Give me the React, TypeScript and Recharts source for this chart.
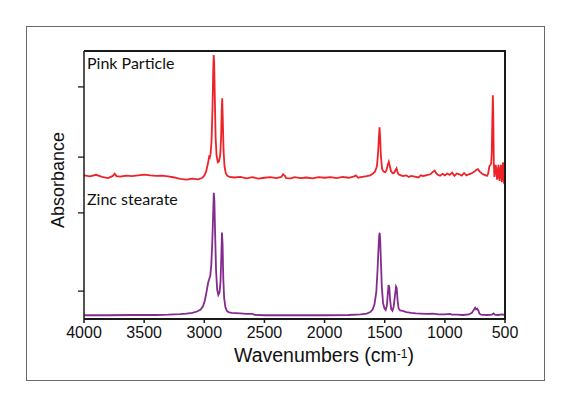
import React from 'react';
import { LineChart, Line, XAxis, YAxis } from 'recharts';

const pinkWavenumbers = [
  4000, 3950, 3900, 3850, 3800, 3760, 3745, 3730, 3700, 3650, 3600, 3550, 3500, 3450, 3400, 3350, 3300, 3250, 3200, 3150,
  3100, 3050, 3020, 3000, 2985, 2970, 2960, 2955, 2948, 2940, 2932, 2926, 2922, 2918, 2913, 2906, 2898, 2888, 2878, 2868,
  2860, 2855, 2851, 2847, 2840, 2832, 2822, 2810, 2790, 2750, 2700, 2650, 2600, 2550, 2500, 2450, 2400, 2360, 2345, 2330,
  2320, 2280, 2250, 2200, 2150, 2100, 2050, 2000, 1950, 1900, 1850, 1800, 1760, 1740, 1720, 1700, 1650, 1620, 1600, 1580,
  1565, 1555, 1548, 1543, 1538, 1532, 1522, 1510, 1495, 1485, 1475, 1466, 1458, 1448, 1435, 1420, 1410, 1402, 1395, 1385,
  1370, 1350, 1320, 1300, 1280, 1250, 1220, 1200, 1180, 1150, 1120, 1100, 1085, 1075, 1060, 1040, 1020, 1000, 980, 960,
  940, 920, 900, 880, 860, 840, 820, 800, 780, 760, 740, 725, 710, 690, 670, 650, 640, 630, 622, 615,
  610, 605, 601, 597, 593, 588, 583, 578, 572, 566, 560, 555, 550, 545, 540, 535, 530, 526, 521, 516,
  512, 507, 503, 500,
];
const pinkAbsorbance = [
  53.6, 53.2, 53.8, 53.0, 52.6, 53.4, 54.2, 53.3, 53.1, 53.5, 53.3, 53.6, 53.9, 53.6, 53.4, 53.5, 53.2, 52.8, 52.3, 52.0,
  52.4, 52.1, 52.6, 53.5, 55.0, 58.0, 60.5, 60.2, 61.5, 66, 78, 92, 98.5, 96, 84, 68, 61, 58.5, 58.8, 61,
  68, 78, 82.4, 76, 63, 57, 54.5, 53.5, 53.0, 52.8, 53.0, 52.5, 52.9, 52.4, 52.7, 52.9, 52.6, 53.0, 54.0, 53.4,
  52.6, 52.5, 52.9, 52.6, 52.8, 52.5, 52.9, 52.7, 52.9, 52.6, 53.0, 52.7, 53.1, 53.6, 52.7, 52.9, 53.3, 53.6, 54.2, 55.0,
  57, 62, 68, 71.5, 68, 61, 56, 55, 54.8, 55.5, 57.5, 58.7, 57.2, 55.2, 54.4, 54.6, 55.6, 56.2, 55.0, 54.0,
  53.7, 53.3, 53.6, 53.0, 53.4, 53.1, 52.8, 53.6, 53.3, 53.7, 54.0, 54.9, 55.4, 54.6, 53.8, 53.5, 54.2, 53.6, 54.3, 53.8,
  54.6, 53.4, 54.3, 54.0, 53.5, 54.5, 53.6, 54.0, 54.3, 54.8, 55.6, 55.9, 55.0, 54.2, 53.8, 53.4, 54.2, 57.0, 57.5, 58,
  62, 75, 83.5, 75, 58, 53, 54.5, 57.5, 56, 52, 53, 57.5, 55, 51.5, 54, 57.5, 55, 51, 56, 58.5,
  53, 50.5, 52, 50,
];

const zincWavenumbers = [
  4000, 3800, 3600, 3400, 3300, 3200, 3150, 3100, 3060, 3030, 3010, 2995, 2980, 2968, 2958, 2950, 2942, 2934, 2927, 2921,
  2916, 2910, 2902, 2893, 2883, 2873, 2865, 2858, 2853, 2848, 2842, 2835, 2825, 2812, 2795, 2770, 2740, 2700, 2650, 2600,
  2580, 2500, 2300, 2000, 1800, 1700, 1650, 1620, 1600, 1585, 1570, 1560, 1552, 1546, 1542, 1538, 1532, 1524, 1514, 1502,
  1492, 1482, 1474, 1468, 1462, 1455, 1446, 1436, 1426, 1414, 1406, 1400, 1393, 1385, 1372, 1350, 1320, 1280, 1240, 1200,
  1150, 1100, 1050, 1000, 960, 940, 900, 850, 800, 775, 760, 748, 740, 732, 722, 712, 700, 650, 610, 595,
  585, 560, 520, 500,
];
const zincAbsorbance = [
  1.4, 1.4, 1.5, 1.5, 1.6, 1.8, 2.0, 2.3, 2.8, 3.5, 4.8, 7.0, 10.5, 13.5, 15.0, 16.2, 20, 28, 38, 47.1,
  44, 32, 18, 11, 9.0, 10.0, 14, 24, 32.3, 28, 15, 8, 4.5, 3.0, 2.5, 2.3, 2.2, 2.1, 1.9, 1.9,
  1.5, 1.4, 1.4, 1.4, 1.5, 1.7, 2.0, 2.6, 3.5, 5.5, 10, 18, 26, 31, 32.2, 30, 22, 12, 6, 4,
  3.4, 5, 9.5, 12.7, 12, 7, 3.8, 3.1, 4.5, 9, 12.1, 11.5, 7, 4, 3.2, 3.0, 2.6, 2.3, 2.1, 2.0,
  1.9, 2.0, 1.7, 1.7, 1.9, 1.6, 1.6, 1.5, 1.7, 2.3, 3.4, 4.2, 3.6, 3.9, 3.2, 2.0, 1.6, 1.5, 1.6, 2.1,
  1.6, 1.5, 1.7, 1.4,
];

const xTicks = [4000, 3500, 3000, 2500, 2000, 1500, 1000, 500];
const yTicks = [10.4, 39.6, 60.4, 86.6];
const seriesNames = ['Pink Particle', 'Zinc stearate'];

const pinkData = pinkWavenumbers.map((w, i) => ({ w, a: pinkAbsorbance[i] }));
const zincData = zincWavenumbers.map((w, i) => ({ w, a: zincAbsorbance[i] }));

const sans = '"Liberation Sans", Arial, sans-serif';
const labelFont = 'Lato, "Open Sans", sans-serif';

const EmptyTick = () => <g />;

export default function App() {
  return (
    <div style={{ position: 'absolute', left: 0, top: 0, width: 570, height: 393, background: '#fff' }}>
      <div
        style={{
          position: 'absolute', left: 26, top: 26, width: 519, height: 355,
          border: '1.5px solid #6a6a6a', boxSizing: 'border-box',
        }}
      />
      <div style={{ position: 'absolute', left: 0, top: 0 }}>
        <LineChart width={570} height={393} margin={{ top: 51, right: 65, bottom: 0, left: 24 }}>
          <XAxis
            dataKey="w" type="number" domain={[500, 4000]} reversed ticks={xTicks}
            allowDataOverflow height={74} tickSize={4} tickMargin={4}
            axisLine={{ stroke: '#1a1a1a', strokeWidth: 2 }}
            tickLine={{ stroke: '#1a1a1a', strokeWidth: 1.5 }}
            tick={{ fill: '#111', fontSize: 16, fontFamily: sans }}
          />
          <YAxis
            type="number" domain={[0, 100]} ticks={yTicks} width={60} tick={EmptyTick} tickSize={6}
            axisLine={{ stroke: '#1a1a1a', strokeWidth: 1.5 }}
            tickLine={{ stroke: '#1a1a1a', strokeWidth: 1.3 }}
          />
          <Line
            data={pinkData} dataKey="a" name={seriesNames[0]} type="linear" dot={false}
            stroke="#ee2229" strokeWidth={1.8} isAnimationActive={false}
          />
          <Line
            data={zincData} dataKey="a" name={seriesNames[1]} type="linear" dot={false}
            stroke="#832c8e" strokeWidth={1.8} isAnimationActive={false}
          />
        </LineChart>
      </div>
      <div
        style={{
          position: 'absolute', left: 84, top: 50, width: 422, height: 270,
          borderTop: '2.2px solid #1a1a1a', borderRight: '2px solid #1a1a1a', boxSizing: 'border-box',
          pointerEvents: 'none',
        }}
      />
      <div
        style={{
          position: 'absolute', left: 87, top: 55, fontFamily: labelFont, fontSize: 16,
          lineHeight: '16px', color: '#111', whiteSpace: 'nowrap',
        }}
      >
        {seriesNames[0]}
      </div>
      <div
        style={{
          position: 'absolute', left: 87, top: 191, fontFamily: labelFont, fontSize: 16,
          lineHeight: '16px', color: '#111', whiteSpace: 'nowrap',
        }}
      >
        {seriesNames[1]}
      </div>
      <div
        style={{
          position: 'absolute', left: 58, top: 180, transform: 'translate(-50%, -50%) rotate(-90deg)',
          fontFamily: sans, fontSize: 18, lineHeight: '18px', color: '#111', whiteSpace: 'nowrap',
        }}
      >
        Absorbance
      </div>
      <div
        style={{
          position: 'absolute', left: 324, top: 345, transform: 'translateX(-50%)',
          fontFamily: sans, fontSize: 19.5, lineHeight: '20px', color: '#111', whiteSpace: 'nowrap',
        }}
      >
        Wavenumbers (cm<sup style={{ fontSize: 12, verticalAlign: 'top', position: 'relative', top: -1 }}>-1</sup>)
      </div>
    </div>
  );
}
